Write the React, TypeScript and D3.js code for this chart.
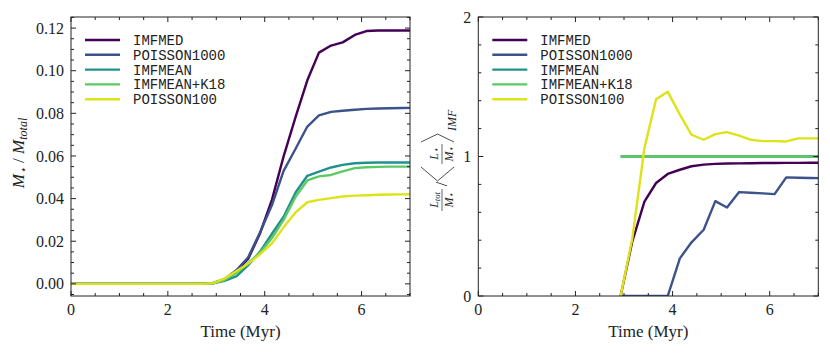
import * as d3 from 'd3';

// time grid (Myr)
const TIMES = [0, 0.24, 0.49, 0.73, 0.98, 1.22, 1.46, 1.71, 1.95, 2.2, 2.44, 2.68, 2.93, 3.17, 3.42, 3.66, 3.9, 4.15, 4.39, 4.64, 4.88, 5.12, 5.37, 5.61, 5.86, 6.1, 6.34, 6.59, 6.83, 7.08];

const SERIES = ['IMFMED', 'POISSON1000', 'IMFMEAN', 'IMFMEAN+K18', 'POISSON100'];
const COLORS = ['#440154', '#3b528b', '#21918c', '#5ec962', '#dde318'];

const Z12 = [0, 0, 0, 0, 0, 0, 0, 0, 0, 0, 0, 0];

// M_star / M_total
const MASS_IMFMED = [...Z12, 0.0003, 0.0022, 0.0062, 0.0118, 0.0235, 0.0395, 0.0598, 0.0785, 0.0955, 0.1085, 0.1118, 0.1133, 0.1168, 0.1186, 0.1189, 0.1189, 0.1189, 0.1189];
const MASS_POISSON1000 = [...Z12, 0.0003, 0.0022, 0.0065, 0.0125, 0.024, 0.037, 0.053, 0.0635, 0.0738, 0.0790, 0.0807, 0.0812, 0.0817, 0.0821, 0.0823, 0.0824, 0.0825, 0.0826];
const MASS_IMFMEAN = [...Z12, 0.0002, 0.0014, 0.0036, 0.0088, 0.015, 0.0235, 0.0315, 0.043, 0.0507, 0.0527, 0.0546, 0.0558, 0.0566, 0.0568, 0.0569, 0.0569, 0.0569, 0.0569];
const MASS_K18 = [...Z12, 0.0002, 0.0018, 0.0052, 0.0098, 0.0145, 0.0215, 0.03, 0.041, 0.0485, 0.0504, 0.0511, 0.0528, 0.0543, 0.0547, 0.0549, 0.055, 0.055, 0.055];
const MASS_POISSON100 = [...Z12, 0.0003, 0.0025, 0.006, 0.0095, 0.0138, 0.019, 0.0265, 0.0336, 0.0383, 0.0394, 0.0402, 0.041, 0.0414, 0.0416, 0.0418, 0.0419, 0.042, 0.0421];

// (L_tot/M_star) / <L/M>_IMF ; null = not plotted
const N12 = [null, null, null, null, null, null, null, null, null, null, null, null];
const LUM_IMFMED = [...N12, 0, 0.39, 0.677, 0.81, 0.875, 0.905, 0.93, 0.942, 0.947, 0.95, 0.951, 0.952, 0.953, 0.953, 0.954, 0.954, 0.955, 0.955];
const LUM_POISSON1000 = [...N12, 0, 0, 0, 0, 0, 0.27, 0.385, 0.475, 0.68, 0.634, 0.745, 0.74, 0.736, 0.73, 0.85, 0.848, 0.846, 0.845];
const LUM_IMFMEAN = [...N12, 1, 1, 1, 1, 1, 1, 1, 1, 1, 1, 1, 1, 1, 1, 1, 1, 1, 1];
const LUM_K18 = [...N12, 1, 1, 1, 1, 1, 1, 1, 1, 1, 1, 1, 1, 1, 1, 1, 1, 1, 1];
const LUM_POISSON100 = [...N12, 0, 0.41, 1.06, 1.41, 1.465, 1.3, 1.156, 1.12, 1.16, 1.175, 1.15, 1.12, 1.11, 1.11, 1.108, 1.13, 1.13, 1.13];

const MASS_TICKS = [0, 0.02, 0.04, 0.06, 0.08, 0.1, 0.12];
const LUM_TICKS = [0, 1, 2];
const TIME_TICKS = [0, 2, 4, 6];

const W = 830;
const H = 353;
const TOP = 17;
const BOTTOM = 296;
const SERIF = '"Liberation Serif", "DejaVu Serif", serif';
const MONO = '"Liberation Mono", "DejaVu Sans Mono", monospace';

type PanelProps = {
  id: string;
  x0: number;
  x1: number;
  yDomain: [number, number];
  yTicks: number[];
  yMinorStep: number;
  yFormat: (v: number) => string;
  data: (number | null)[][];
};

function Panel({ id, x0, x1, yDomain, yTicks, yMinorStep, yFormat, data }: PanelProps) {
  const x = d3.scaleLinear().domain([0, 7]).range([x0, x1]);
  const y = d3.scaleLinear().domain(yDomain).range([BOTTOM, TOP]);
  const line = d3.line<number | null>()
    .defined(d => d != null)
    .x((_, i) => x(TIMES[i]))
    .y(d => y(d as number));

  const xMinor = d3.range(0, 7.001, 0.5).filter(v => !TIME_TICKS.includes(v));
  const yMinor = d3.range(Math.ceil(yDomain[0] / yMinorStep) * yMinorStep, yDomain[1], yMinorStep)
    .filter(v => !yTicks.some(t => Math.abs(t - v) < 1e-9));
  const major = 5;
  const minor = 3;

  return (
    <g>
      <defs>
        <clipPath id={id}>
          <rect x={x0} y={TOP} width={x1 - x0} height={BOTTOM - TOP} />
        </clipPath>
      </defs>
      <g clipPath={`url(#${id})`} fill="none" strokeWidth={2.4} strokeLinejoin="round">
        {data.map((s, i) => (
          <path key={i} d={line(s) ?? ''} stroke={COLORS[i]} />
        ))}
      </g>
      <g stroke="#222" strokeWidth={1}>
        {TIME_TICKS.map(t => (
          <g key={'xt' + t}>
            <line x1={x(t)} x2={x(t)} y1={BOTTOM} y2={BOTTOM - major} />
            <line x1={x(t)} x2={x(t)} y1={TOP} y2={TOP + major} />
          </g>
        ))}
        {xMinor.map(t => (
          <g key={'xm' + t}>
            <line x1={x(t)} x2={x(t)} y1={BOTTOM} y2={BOTTOM - minor} />
            <line x1={x(t)} x2={x(t)} y1={TOP} y2={TOP + minor} />
          </g>
        ))}
        {yTicks.map(t => (
          <g key={'yt' + t}>
            <line x1={x0} x2={x0 + major} y1={y(t)} y2={y(t)} />
            <line x1={x1} x2={x1 - major} y1={y(t)} y2={y(t)} />
          </g>
        ))}
        {yMinor.map(t => (
          <g key={'ym' + t}>
            <line x1={x0} x2={x0 + minor} y1={y(t)} y2={y(t)} />
            <line x1={x1} x2={x1 - minor} y1={y(t)} y2={y(t)} />
          </g>
        ))}
        <rect x={x0} y={TOP} width={x1 - x0} height={BOTTOM - TOP} fill="none" />
      </g>
      <g fontFamily={SERIF} fontSize={16} fill="#222">
        {TIME_TICKS.map(t => (
          <text key={'xl' + t} x={x(t)} y={BOTTOM + 19} textAnchor="middle">{t}</text>
        ))}
        {yTicks.map(t => (
          <text key={'yl' + t} x={x0 - 7} y={y(t)} dy="0.35em" textAnchor="end">{yFormat(t)}</text>
        ))}
        <text x={(x0 + x1) / 2} y={337} textAnchor="middle" fontSize={17}>Time (Myr)</text>
      </g>
      <g fontFamily={MONO} fontSize={14} fill="#222">
        {SERIES.map((s, i) => (
          <g key={s} transform={`translate(${x0 + 14},${40 + i * 14.8})`}>
            <line x1={0} x2={35} stroke={COLORS[i]} strokeWidth={2.4} />
            <text x={48} y={0} dy="0.35em">{s}</text>
          </g>
        ))}
      </g>
    </g>
  );
}

export default function App() {
  const massData = [MASS_IMFMED, MASS_POISSON1000, MASS_IMFMEAN, MASS_K18, MASS_POISSON100];
  const lumData = [LUM_IMFMED, LUM_POISSON1000, LUM_IMFMEAN, LUM_K18, LUM_POISSON100];
  return (
    <svg width={W} height={H} style={{ position: 'absolute', left: 0, top: 0, background: '#fff' }}>
      <Panel id="clipL" x0={71} x1={410} yDomain={[-0.0057, 0.1252]} yTicks={MASS_TICKS} yMinorStep={0.005}
        yFormat={d3.format('.2f')} data={massData} />
      <Panel id="clipR" x0={478.3} x1={818.3} yDomain={[0, 2]} yTicks={LUM_TICKS} yMinorStep={0.2}
        yFormat={d3.format('d')} data={lumData} />

      {/* left y label */}
      <text transform="translate(24,153) rotate(-90)" textAnchor="middle" fontFamily={SERIF} fontSize={17}
        fontStyle="italic" fill="#222">
        M<tspan fontSize={11} dy={3}>⋆</tspan><tspan dy={-3} fontStyle="normal"> / </tspan>M<tspan fontSize={12} dy={3}>total</tspan>
      </text>

      {/* right y label */}
      <g transform="translate(442,158) rotate(-90)" fontFamily={SERIF} fill="#222" stroke="none">
        <text x={-42} y={-4} textAnchor="middle" fontSize={12} fontStyle="italic">L<tspan fontSize={8.5} dy={2}>tot</tspan></text>
        <line x1={-53} x2={-31} y1={0} y2={0} stroke="#222" strokeWidth={0.7} />
        <text x={-42} y={11} textAnchor="middle" fontSize={12} fontStyle="italic">M<tspan fontSize={8.5} dy={1}>⋆</tspan></text>
        <text x={-26} y={5} textAnchor="middle" fontSize={16}>/</text>
        <path d="M-9,-21L-23,-4.5L-9,12" fill="none" stroke="#222" strokeWidth={0.8} />
        <text x={4} y={-4} textAnchor="middle" fontSize={12} fontStyle="italic">L<tspan fontSize={8.5} dy={1}>⋆</tspan></text>
        <line x1={-6} x2={14} y1={0} y2={0} stroke="#222" strokeWidth={0.7} />
        <text x={4} y={11} textAnchor="middle" fontSize={12} fontStyle="italic">M<tspan fontSize={8.5} dy={1}>⋆</tspan></text>
        <path d="M16,-21L24,-4.5L16,12" fill="none" stroke="#222" strokeWidth={0.8} />
        <text x={27} y={14} fontSize={12} fontStyle="italic">IMF</text>
      </g>
    </svg>
  );
}
